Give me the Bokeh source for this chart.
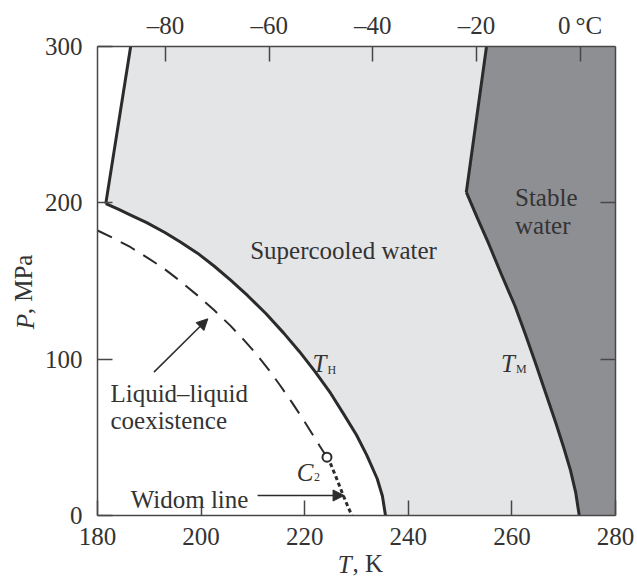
from bokeh.plotting import figure
from bokeh.models import (Range1d, LinearAxis, FixedTicker, Label, Arrow, NormalHead,
                          CustomJSTickFormatter)
from bokeh.embed import file_html
from bokeh.resources import INLINE

# ---- data (T in K, P in MPa) ----
k_ticks = [180, 200, 220, 240, 260, 280]
p_ticks = [0, 100, 200, 300]
c_ticks = [-80, -60, -40, -20, 0]
c_labels = ["\u201380", "\u201360", "\u201340", "\u201320", "0\u2009\u00b0C"]

# homogeneous nucleation line T_H
th_T = [181.6, 184.0, 186.4, 189.5, 193.0, 196.0, 199.3, 202.5, 205.7, 209.0, 212.5,
        216.0, 219.0, 222.0, 225.0, 227.5, 230.0, 232.0, 234.0, 235.0, 235.6]
th_P = [199.5, 196.0, 192.2, 187.3, 181.0, 175.0, 167.8, 159.6, 150.6, 140.6, 129.2,
        116.5, 104.8, 92.0, 78.2, 65.0, 51.5, 38.5, 23.5, 12.5, 0.0]
# left boundary above 200 MPa
left_T = [186.4, 181.6]
left_P = [300.0, 199.5]
# melting line T_M (ice Ih) and ice III branch
tm_T = [251.2, 253.3, 255.5, 258.0, 260.6, 262.6, 264.5, 266.5, 268.5, 270.0, 271.3, 272.3, 273.0]
tm_P = [206.8, 190.5, 174.0, 154.0, 134.0, 116.0, 98.0, 78.5, 59.0, 43.5, 29.0, 15.0, 0.0]
iii_T = [255.1, 251.2]
iii_P = [300.0, 206.8]
# liquid-liquid coexistence (dashed) ending at C2
ll_T = [180.0, 183.2, 186.4, 189.6, 192.9, 196.1, 199.3, 202.5, 205.6, 208.2, 210.6,
        213.0, 215.3, 217.5, 219.6, 221.4, 222.9, 224.3]
ll_P = [182.3, 177.2, 171.6, 165.0, 157.8, 149.6, 140.8, 131.4, 121.6, 112.5, 103.5,
        93.5, 83.0, 72.5, 62.0, 52.5, 44.5, 37.3]
# Widom line (dotted)
widom_T = [224.3, 225.0, 226.0, 227.3, 228.3, 229.1]
widom_P = [37.3, 33.0, 25.0, 14.0, 6.0, 0.0]
c2_T = [224.3]
c2_P = [37.3]

X0, X1 = 180, 280
Y0, Y1 = 0, 300

LIGHT = "#e4e5e7"
DARK = "#8e8f93"
LC = "#2b2b2b"
AX = "#474747"
TXT = "#333333"
FONT = "Liberation Serif"

p = figure(width=637, height=583, x_range=Range1d(X0, X1), y_range=Range1d(Y0, Y1),
           output_backend="svg", toolbar_location=None,
           min_border_left=97, min_border_right=22, min_border_top=46, min_border_bottom=68)
p.xgrid.visible = False
p.ygrid.visible = False
p.outline_line_color = None
p.background_fill_color = "white"
p.border_fill_color = "white"

# regions
light_x = left_T + th_T + [tm_T[-1]] + tm_T[::-1][1:] + iii_T[::-1]
light_y = left_P + th_P + [tm_P[-1]] + tm_P[::-1][1:] + iii_P[::-1]
p.patch(light_x, light_y, fill_color=LIGHT, line_color=None)
dark_x = iii_T + tm_T + [X1, X1]
dark_y = iii_P + tm_P + [Y0, Y1]
p.patch(dark_x, dark_y, fill_color=DARK, line_color=None)

# lines
p.line(left_T, left_P, line_color=LC, line_width=3, line_join="round")
p.line(th_T, th_P, line_color=LC, line_width=3, line_join="round")
p.line(iii_T, iii_P, line_color=LC, line_width=3, line_join="round")
p.line(tm_T, tm_P, line_color=LC, line_width=3, line_join="round")
p.line(ll_T, ll_P, line_color=LC, line_width=2, line_dash="16 10")
p.line(widom_T, widom_P, line_color=LC, line_width=3, line_dash="4 3")
p.scatter(c2_T, c2_P, marker="circle", size=9, fill_color="white", line_color=LC, line_width=2)

# axes
def style(ax):
    ax.axis_line_color = AX
    ax.axis_line_width = 1.5
    ax.major_tick_line_color = AX
    ax.major_tick_line_width = 1.5
    ax.major_tick_in = 15
    ax.major_tick_out = 0
    ax.minor_tick_line_color = None
    ax.major_label_text_font = FONT
    ax.major_label_text_font_size = "25px"
    ax.major_label_text_color = TXT

p.xaxis.ticker = FixedTicker(ticks=k_ticks)
p.yaxis.ticker = FixedTicker(ticks=p_ticks)
style(p.xaxis[0])
style(p.yaxis[0])
p.xaxis.major_label_standoff = 12
p.yaxis.major_label_standoff = 15

p.extra_x_ranges = {"C": Range1d(X0 - 273.15, X1 - 273.15)}
top = LinearAxis(x_range_name="C", ticker=FixedTicker(ticks=c_ticks),
                 major_label_overrides={t: s for t, s in zip(c_ticks, c_labels)})
style(top)
top.major_label_standoff = 8
p.add_layout(top, "above")

right = LinearAxis(ticker=FixedTicker(ticks=[100, 200]),
                   major_label_overrides={100: "", 200: ""})
style(right)
right.major_label_text_font_size = "1px"
right.major_label_standoff = 0
p.add_layout(right, "right")

# axis titles, built as label-only axes so that the symbol can be italic
def title_axis(side, pos, text, italic, standoff, vertical=False):
    ax = LinearAxis(ticker=FixedTicker(ticks=[pos]),
                    formatter=CustomJSTickFormatter(code="return %r;" % text))
    ax.axis_line_color = None
    ax.major_tick_line_color = None
    ax.minor_tick_line_color = None
    ax.major_tick_in = 0
    ax.major_tick_out = 0
    ax.major_label_text_font = FONT
    ax.major_label_text_font_size = "25px"
    ax.major_label_text_color = TXT
    ax.major_label_text_font_style = "italic" if italic else "normal"
    ax.major_label_standoff = standoff
    if vertical:
        ax.major_label_orientation = "vertical"
    p.add_layout(ax, side)

title_axis("below", 227.7, "T", True, 3)
title_axis("below", 232.2, ", K", False, -31)
title_axis("left", 124.1, "P", True, 2, vertical=True)
title_axis("left", 147.8, ", MPa", False, -28, vertical=True)

# text inside the plot
def lab(x, y, text, size="25px", style="normal", align="left"):
    p.add_layout(Label(x=x, y=y, text=text, text_font=FONT, text_font_size=size,
                       text_font_style=style, text_align=align, text_baseline="alphabetic",
                       text_color=TXT))

lab(227.5, 169.5, "Supercooled water", align="center")
lab(260.6, 203.6, "Stable")
lab(260.6, 185.5, "water")
lab(182.5, 78.2, "Liquid\u2013liquid")
lab(182.5, 60.8, "coexistence")
lab(186.4, 10.0, "Widom line")
lab(221.5, 97.0, "T", style="italic")
lab(224.4, 93.2, "H", size="12px")
lab(257.9, 97.0, "T", style="italic")
lab(260.8, 93.8, "M", size="12px")
lab(218.45, 27.7, "C", style="italic")
lab(221.8, 24.5, "2", size="12px")

# arrows
p.add_layout(Arrow(end=NormalHead(size=11, fill_color=LC, line_color=LC, line_width=1),
                   x_start=190.9, y_start=91.7, x_end=201.3, y_end=125.8,
                   line_color=LC, line_width=1.5))
p.add_layout(Arrow(end=NormalHead(size=11, fill_color=LC, line_color=LC, line_width=1),
                   x_start=210.9, y_start=12.8, x_end=227.6, y_end=12.8,
                   line_color=LC, line_width=1.5))

open("out.html", "w").write(file_html(p, INLINE))
